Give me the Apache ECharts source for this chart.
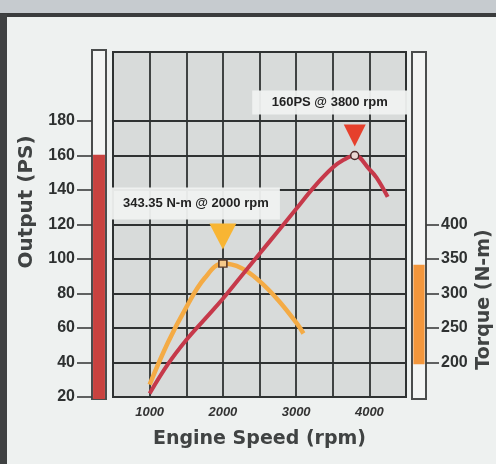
<!DOCTYPE html>
<html><head><meta charset="utf-8">
<script src="https://cdn.jsdelivr.net/npm/echarts@6/dist/echarts.min.js"></script>
<style>html,body{margin:0;padding:0;background:#eef1f0;}#c{width:496px;height:464px;}</style>
</head><body><div id="c"></div>
<script>
// Data
const powerRpm = [1000,1250,1500,1750,2000,2250,2500,2750,3000,3250,3500,3650,3800,4000,4100,4250];
const powerPS  = [22,39,53,65,77,90,103,116,129,142,153,157.5,160,152,147,136];
const torqueRpm = [1000,1250,1500,1750,2000,2250,2500,2750,3000,3100];
const torqueNm  = [168,229,280,322,343.35,337,318,291,258,242];
const psTicks = [20,40,60,80,100,120,140,160,180];
const nmTicks = [200,250,300,350,400];
const rpmLabels = [1000,2000,3000,4000];
const peakPower = {rpm:3800, value:160, text:'160PS @ 3800 rpm'};
const peakTorque = {rpm:2000, value:343.35, text:'343.35 N-m @ 2000 rpm'};
const torqueBarBase = 200;

const narrow = "'Liberation Sans','Arial',sans-serif";
const wide = "'DejaVu Sans',Verdana,sans-serif";

const chart = echarts.init(document.getElementById('c'), null, {renderer:'canvas'});
const gTop = 52, gBottom = 67;
const option = {
  backgroundColor:'#eef1f0',
  animation:false,
  graphic:[
    {type:'rect', shape:{x:0,y:0,width:496,height:14}, style:{fill:'#c6cbcf'}, z:-1},
    {type:'rect', shape:{x:0,y:13,width:496,height:4}, style:{fill:'#3a3c3d'}, z:-1},
    {type:'rect', shape:{x:0,y:14,width:7,height:450}, style:{fill:'#3f4142'}, z:-1}
  ],
  grid:[
    {left:113, right:90, top:gTop, bottom:gBottom, outerBoundsMode:'none', containLabel:false, show:true, backgroundColor:'#d8dbda', borderColor:'#2f3232', borderWidth:2},
    {left:92, width:14, top:gTop-2, bottom:gBottom-2, outerBoundsMode:'none', containLabel:false, show:true, backgroundColor:'#f3f5f4', borderColor:'#4a4d4d', borderWidth:2},
    {left:412, width:14, top:gTop, bottom:gBottom-2, outerBoundsMode:'none', containLabel:false, show:true, backgroundColor:'#f3f5f4', borderColor:'#4a4d4d', borderWidth:2}
  ],
  xAxis:[
    {type:'value', gridIndex:0, min:500, max:4500, interval:500,
     name:'Engine Speed (rpm)', nameLocation:'middle', nameGap:33,
     nameTextStyle:{fontFamily:wide, fontWeight:'bold', fontSize:19, color:'#404343'},
     axisLine:{show:false}, axisTick:{show:false},
     axisLabel:{customValues:rpmLabels, formatter:v=>String(v), margin:9, fontFamily:narrow, fontStyle:'italic', fontWeight:'bold', fontSize:13, color:'#333'},
     splitLine:{show:true, lineStyle:{color:'#2f3232', width:1.8}}},
    {type:'category', gridIndex:1, data:['P'], show:false},
    {type:'category', gridIndex:2, data:['T'], show:false}
  ],
  yAxis:[
    {type:'value', gridIndex:0, min:20, max:220, interval:20, position:'left', offset:21,
     name:'Output (PS)', nameLocation:'middle', nameGap:55,
     nameTextStyle:{fontFamily:wide, fontWeight:'bold', fontSize:20, color:'#404343', padding:[0,0,0,45]},
     axisLine:{show:false},
     axisTick:{show:true, customValues:psTicks, length:15, lineStyle:{color:'#3a3d3d', width:1.6}},
     axisLabel:{customValues:psTicks, formatter:v=>String(v), margin:17, fontFamily:narrow, fontWeight:'bold', fontSize:16, color:'#2e3131'},
     splitLine:{show:true, lineStyle:{color:'#2f3232', width:1.8}}},
    {type:'value', gridIndex:0, min:150, max:650, interval:50, position:'right', offset:20,
     name:'Torque (N-m)', nameLocation:'middle', nameGap:49, nameMoveOverlap:false,
     nameTextStyle:{fontFamily:wide, fontWeight:'bold', fontSize:19, color:'#404343', padding:[0,150,0,0]},
     axisLine:{show:false},
     axisTick:{show:true, customValues:nmTicks, length:13, lineStyle:{color:'#3a3d3d', width:1.6}},
     axisLabel:{customValues:nmTicks, formatter:v=>String(v), margin:15, fontFamily:narrow, fontWeight:'bold', fontSize:16, color:'#2e3131'},
     splitLine:{show:false}},
    {type:'value', gridIndex:1, min:20, max:220, show:false},
    {type:'value', gridIndex:2, min:150, max:650, show:false}
  ],
  series:[
    {type:'bar', xAxisIndex:1, yAxisIndex:2, data:[peakPower.value], barWidth:'85%',
     itemStyle:{color:'#c8423f'}, silent:true},
    {type:'bar', xAxisIndex:2, yAxisIndex:3, stack:'t', data:[torqueBarBase], barWidth:'80%',
     itemStyle:{color:'rgba(0,0,0,0)'}, silent:true},
    {type:'bar', xAxisIndex:2, yAxisIndex:3, stack:'t', data:[peakTorque.value - torqueBarBase], barWidth:'80%',
     itemStyle:{color:'#f2963c'}, silent:true},
    {type:'line', xAxisIndex:0, yAxisIndex:1, smooth:0.4, showSymbol:false,
     data:torqueRpm.map((r,i)=>[r,torqueNm[i]]),
     lineStyle:{color:'#f4ab45', width:4.5}, z:3,
     markPoint:{silent:true, data:[
       {coord:[peakTorque.rpm,peakTorque.value], symbol:'triangle', symbolRotate:180, symbolSize:[27,26], symbolOffset:[0,-27],
        itemStyle:{color:'#f8b533'}, label:{show:false}},
       {coord:[peakTorque.rpm,peakTorque.value], symbol:'rect', symbolSize:[8,7], itemStyle:{color:'#f6c98a', borderColor:'#5a3a2a', borderWidth:1.5}, label:{show:false}},
       {coord:[peakTorque.rpm,peakTorque.value], symbol:'rect', symbolSize:0,
        label:{show:true, position:'inside', offset:[-27,-60], formatter:peakTorque.text,
          width:168, height:32, lineHeight:32, align:'center', verticalAlign:'middle',
          backgroundColor:'rgba(240,242,241,0.95)', color:'#222', fontFamily:narrow, fontWeight:'bold', fontSize:13}}
     ]}},
    {type:'line', xAxisIndex:0, yAxisIndex:0, smooth:0.4, showSymbol:false,
     data:powerRpm.map((r,i)=>[r,powerPS[i]]),
     lineStyle:{color:'#c6394a', width:4}, z:4,
     markPoint:{silent:true, data:[
       {coord:[peakPower.rpm,peakPower.value], symbol:'triangle', symbolRotate:180, symbolSize:[22,22], symbolOffset:[0,-20],
        itemStyle:{color:'#e6402c'}, label:{show:false}},
       {coord:[peakPower.rpm,peakPower.value], symbol:'circle', symbolSize:8, itemStyle:{color:'#e9d6d2', borderColor:'#4a2a2a', borderWidth:1.5}, label:{show:false}},
       {coord:[peakPower.rpm,peakPower.value], symbol:'rect', symbolSize:0,
        label:{show:true, position:'inside', offset:[-25,-53], formatter:peakPower.text,
          width:155, height:24, lineHeight:24, align:'center', verticalAlign:'middle',
          backgroundColor:'rgba(240,242,241,0.95)', color:'#222', fontFamily:narrow, fontWeight:'bold', fontSize:13}}
     ]}}
  ]
};
chart.setOption(option);
</script></body></html>
